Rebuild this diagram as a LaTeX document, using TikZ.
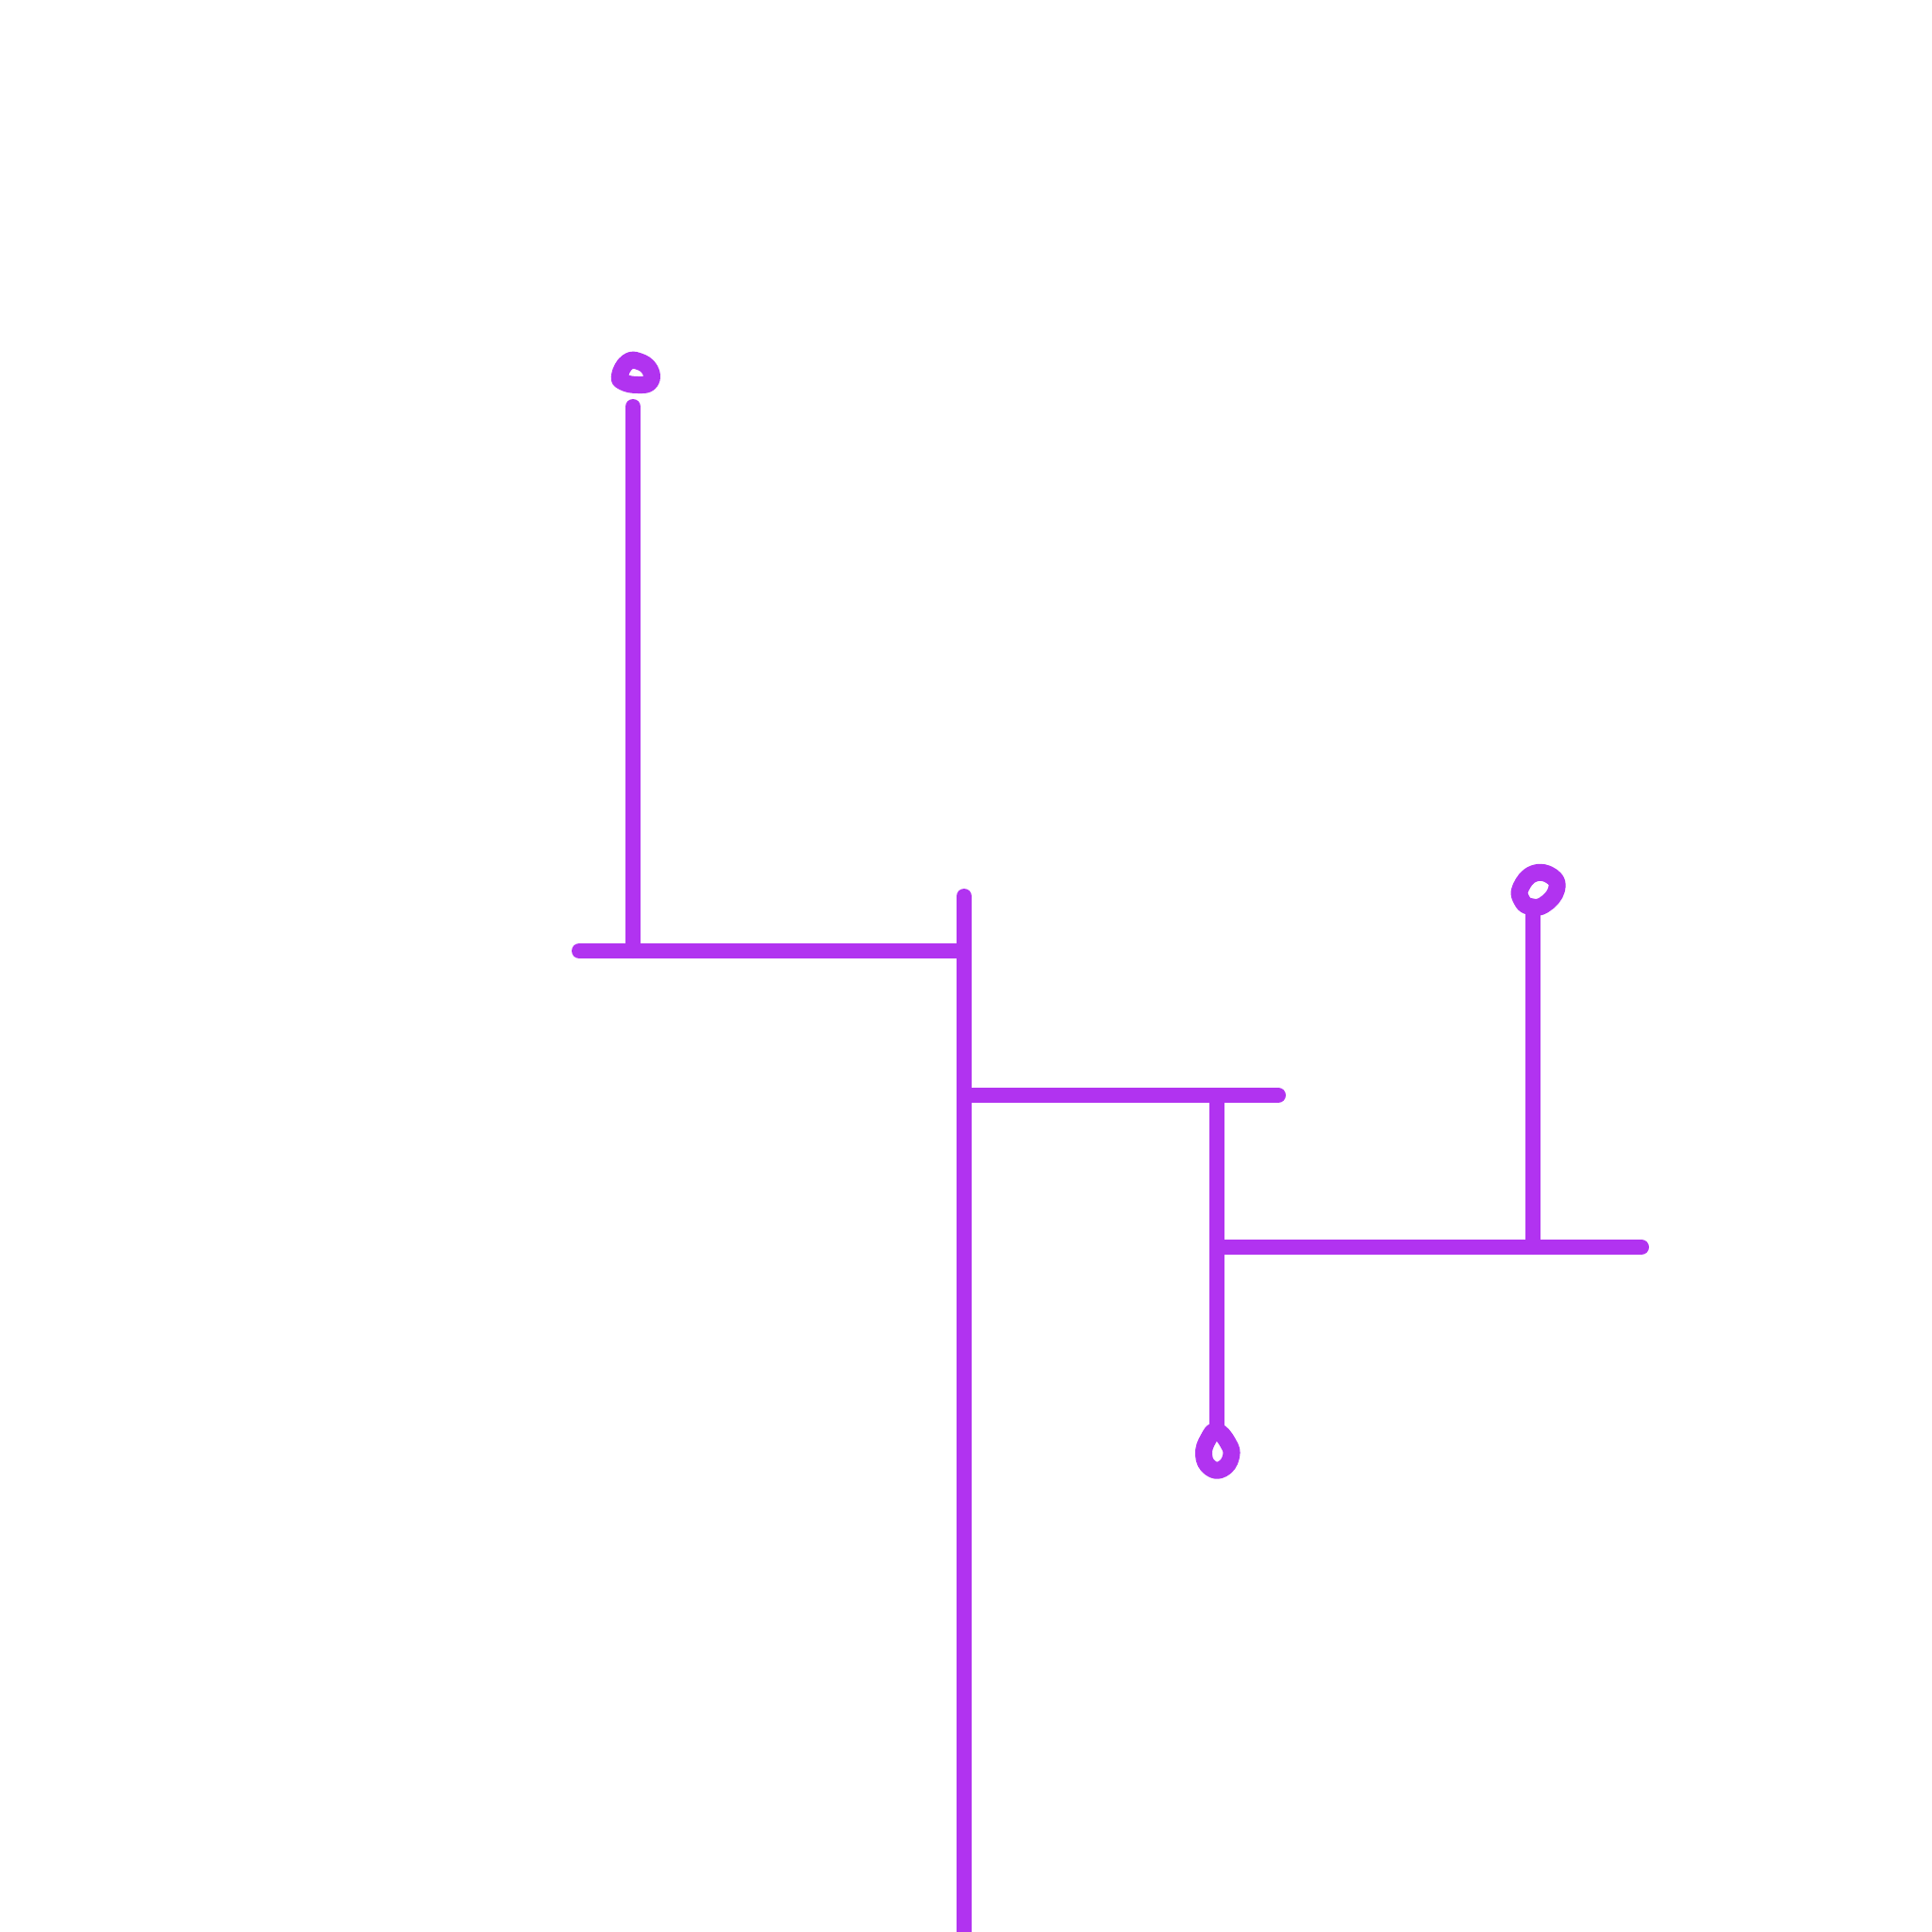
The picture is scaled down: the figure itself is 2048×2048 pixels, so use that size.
\documentclass[tikz,border=0pt]{standalone}
\definecolor{stroke}{RGB}{177,51,240}
\begin{document}
\begin{tikzpicture}[x=0.1mm,y=-0.1mm,
  pen/.style={draw=stroke,line width=1.6mm,line cap=round,line join=round},
  loop/.style={draw=stroke,line width=1.8mm,line cap=round,line join=round}]
\useasboundingbox[fill=white] (0,0) rectangle (2048,2048);
% named points
\coordinate (mainTop) at (1022,950);
\coordinate (mainBot) at (1022,2070);
\coordinate (h1L) at (614,1008);
\coordinate (h1R) at (1022,1008);
\coordinate (v1T) at (671,431);
\coordinate (v1B) at (671,1008);
\coordinate (h2L) at (1030,1161);
\coordinate (h2R) at (1355,1161);
\coordinate (v2T) at (1290,1161);
\coordinate (v2B) at (1290,1514);
\coordinate (h3L) at (1298,1322);
\coordinate (h3R) at (1740,1322);
\coordinate (v3T) at (1625,965);
\coordinate (v3B) at (1625,1322);
% lines
\draw[pen] (mainTop) -- (mainBot);
\draw[pen] (h1L) -- (h1R);
\draw[pen] (v1T) -- (v1B);
\draw[pen] (h2L) -- (h2R);
\draw[pen] (v2T) -- (v2B);
\draw[pen] (h3L) -- (h3R);
\draw[pen] (v3T) -- (v3B);
% loops
\draw[loop] plot[smooth cycle,tension=0.8] coordinates {(657,398) (665,384) (677,383) (689,392) (689,405) (676,408) (661,405)};
\draw[loop] plot[smooth cycle,tension=0.8] coordinates {(1612,941) (1626,926) (1645,929) (1650,943) (1637,959) (1622,961) (1613,954)};
\draw[loop] plot[smooth cycle,tension=0.8] coordinates {(1290,1517) (1302,1530) (1305,1544) (1296,1557) (1283,1556) (1276,1542) (1281,1525)};
\end{tikzpicture}
\end{document}
